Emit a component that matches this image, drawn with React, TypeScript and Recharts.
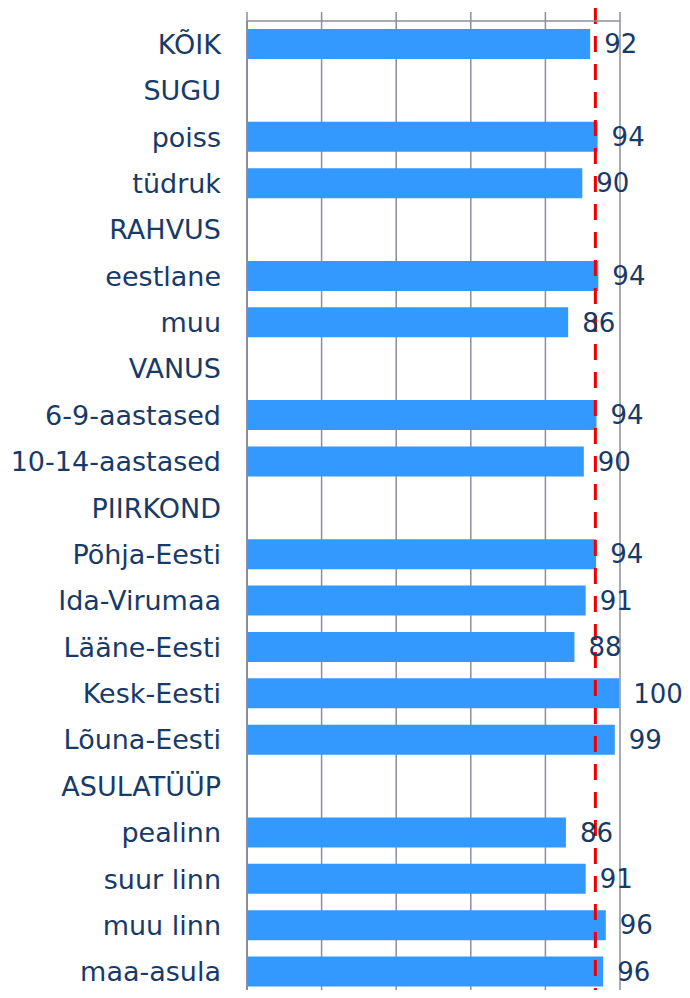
import React from "react";
import {
  BarChart,
  Bar,
  XAxis,
  YAxis,
  CartesianGrid,
  ReferenceLine,
  LabelList,
} from "recharts";

// rows top to bottom, group headers have no value
const categories = [
  "KÕIK",
  "SUGU",
  "poiss",
  "tüdruk",
  "RAHVUS",
  "eestlane",
  "muu",
  "VANUS",
  "6-9-aastased",
  "10-14-aastased",
  "PIIRKOND",
  "Põhja-Eesti",
  "Ida-Virumaa",
  "Lääne-Eesti",
  "Kesk-Eesti",
  "Lõuna-Eesti",
  "ASULATÜÜP",
  "pealinn",
  "suur linn",
  "muu linn",
  "maa-asula",
];

const shares: (number | null)[] = [
  92.0, null, 94.0, 89.9, null, 94.2, 86.1, null, 93.7, 90.3, null, 93.6,
  90.8, 87.8, 99.8, 98.6, null, 85.5, 90.8, 96.2, 95.5,
];

const averageLine = 93.4;
const xTicks = [0, 20, 40, 60, 80, 100];

const data = categories.map((name, i) => ({ name, value: shares[i] }));

const textColor = "#173a68";
const gridColor = "#8b8e9e";
const font = "'DejaVu Sans', Verdana, sans-serif";

export default function App() {
  return (
    <div
      style={{
        margin: "-8px",
        width: 690,
        height: 998,
        overflow: "hidden",
        background: "#fff",
      }}
    >
      <BarChart
        width={690}
        height={998}
        data={data}
        layout="vertical"
        margin={{ top: 11, right: 70, bottom: 3, left: 0 }}
        style={{ overflow: "visible" }}
      >
        <CartesianGrid
          horizontal={false}
          stroke={gridColor}
          strokeWidth={1.5}
        />
        <XAxis
          type="number"
          orientation="top"
          domain={[0, 100]}
          ticks={xTicks}
          height={10}
          tickSize={9}
          tickFormatter={() => ""}
          axisLine={{ stroke: gridColor, strokeWidth: 1.5 }}
          tickLine={{ stroke: gridColor, strokeWidth: 1.5 }}
        />
        <YAxis
          type="category"
          dataKey="name"
          width={247}
          interval={0}
          tickSize={0}
          tickMargin={26}
          tickLine={false}
          axisLine={{ stroke: gridColor, strokeWidth: 2 }}
          tick={{ fontSize: 27, fill: textColor, fontFamily: font }}
        />
        <Bar
          dataKey="value"
          fill="#3399ff"
          barSize={30}
          isAnimationActive={false}
        >
          <LabelList
            dataKey="value"
            position="right"
            offset={14}
            formatter={(v: any) =>
              v === null || v === undefined ? "" : Math.round(Number(v))
            }
            style={{ fontSize: 26, fill: textColor, fontFamily: font }}
          />
        </Bar>
        <ReferenceLine
          x={averageLine}
          stroke="#ee0000"
          strokeWidth={3}
          strokeDasharray="16 12"
          shape={(p: any) => (
            <line
              x1={p.x1}
              x2={p.x2}
              y1={Math.min(p.y1, p.y2) - 13}
              y2={Math.max(p.y1, p.y2) + 3}
              stroke="#ee0000"
              strokeWidth={3}
              strokeDasharray="16 12"
            />
          )}
        />
      </BarChart>
    </div>
  );
}
